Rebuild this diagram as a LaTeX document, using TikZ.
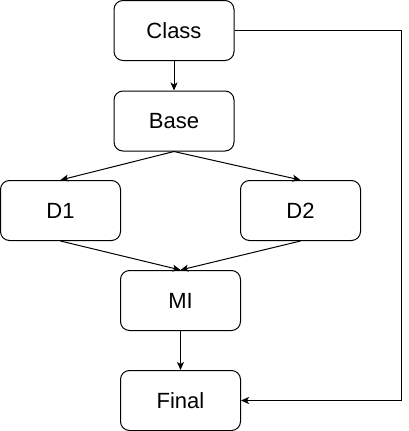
\documentclass[tikz,border=0pt]{standalone}
\usepackage{fontspec}
\setmainfont{Liberation Sans}
\usetikzlibrary{arrows.meta}
\begin{document}
\begin{tikzpicture}[x=1pt,y=-1pt,
  box/.style={draw=black,line width=1pt,rounded corners=9pt,minimum width=120pt,minimum height=60pt,inner sep=0pt,font=\fontsize{22}{26}\selectfont,fill=white},
  conn/.style={draw=black,line width=1pt,-{Stealth[length=8pt,width=7pt,inset=2pt]}}]
\useasboundingbox (0,0) rectangle (409,431);
\node[box] (class) at (174,30.5) {Class};
\node[box] (base) at (174,121) {Base};
\node[box] (d1) at (60.5,210.5) {D1};
\node[box] (d2) at (300.5,210.5) {D2};
\node[box] (mi) at (180.5,300.5) {MI};
\node[box] (final) at (180.5,400.5) {Final};
\coordinate (r1) at (401,30.5);
\coordinate (r2) at (401,400.5);
\draw[conn] (class) -- (base);
\draw[conn] (base.south) -- (d1.north);
\draw[conn] (base.south) -- (d2.north);
\draw[conn] (d1.south) -- (mi.north);
\draw[conn] (d2.south) -- (mi.north);
\draw[conn] (mi) -- (final);
\draw[conn] (class.east) -- (r1) -- (r2) -- (final.east);
\end{tikzpicture}
\end{document}
